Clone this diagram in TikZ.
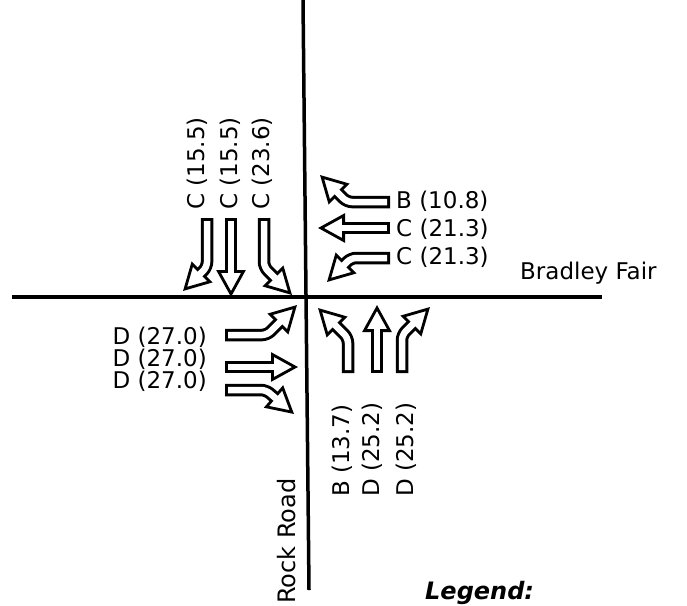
\documentclass[tikz,border=0pt]{standalone}
\usepackage{fontspec}
\setmainfont{DejaVu Sans}
\usetikzlibrary{arrows.meta}

\newcommand{\lanearrow}[1]{%
  \draw[lanebody] #1;
  \draw[lanecore] #1;}

\begin{document}
\begin{tikzpicture}[x=1pt,y=-1pt,
  font=\fontsize{23}{23}\selectfont,
  road/.style={line width=3.5pt},
  lanebody/.style={line width=12.5pt,rounded corners=5pt,
    -{Triangle[length=27pt,width=29pt,line width=2.8pt,fill=white]}},
  lanecore/.style={white,line width=6.5pt,rounded corners=5pt,
    shorten <=3pt,shorten >=22pt},
  lbl/.style={inner sep=0pt},
  vlbl/.style={inner sep=0pt,rotate=90,anchor=west}]
  \useasboundingbox (0,0) rectangle (687,605);
  \clip (0,0) rectangle (687,605);

  \draw[road] (303,0) -- (309,590);
  \draw[road] (12,297) -- (602,297);

  \node[lbl,anchor=base west] (bradley) at (520,279) {Bradley Fair};
  \node[vlbl,font=\fontsize{24}{24}\selectfont] (rock) at (287,604) {Rock Road};
  \node[lbl,anchor=south west,font=\fontsize{24}{24}\selectfont\bfseries\itshape]
    (legend) at (425,605) {Legend:};

  \node[vlbl] (sb1) at (197,210) {C (15.5)};
  \node[vlbl] (sb2) at (230,210) {C (15.5)};
  \node[vlbl] (sb3) at (262,210) {C (23.6)};
  \lanearrow{(207,218) -- (207,267) -- (183,291)}
  \lanearrow{(231,218) -- (231,297)}
  \lanearrow{(264,218) -- (264,267) -- (292,295)}

  \node[lbl,anchor=west] (wb1) at (396,201) {B (10.8)};
  \node[lbl,anchor=west] (wb2) at (396,229) {C (21.3)};
  \node[lbl,anchor=west] (wb3) at (396,257) {C (21.3)};
  \lanearrow{(390,202) -- (347,202) -- (320,175)}
  \lanearrow{(390,228) -- (318,228)}
  \lanearrow{(390,258) -- (351,258) -- (327,282)}

  \node[lbl,anchor=east] (eb1) at (207,337) {D (27.0)};
  \node[lbl,anchor=east] (eb2) at (207,359) {D (27.0)};
  \node[lbl,anchor=east] (eb3) at (207,381) {D (27.0)};
  \lanearrow{(225,335) -- (267,335) -- (297,305)}
  \lanearrow{(225,367) -- (298,367)}
  \lanearrow{(225,390) -- (266,390) -- (294,414)}

  \node[vlbl] (nb1) at (342,497) {B (13.7)};
  \node[vlbl] (nb2) at (372,497) {D (25.2)};
  \node[vlbl] (nb3) at (406,497) {D (25.2)};
  \lanearrow{(348,373) -- (348,338) -- (318,308)}
  \lanearrow{(377,373) -- (377,305)}
  \lanearrow{(402,373) -- (402,335) -- (430,307)}
\end{tikzpicture}
\end{document}
